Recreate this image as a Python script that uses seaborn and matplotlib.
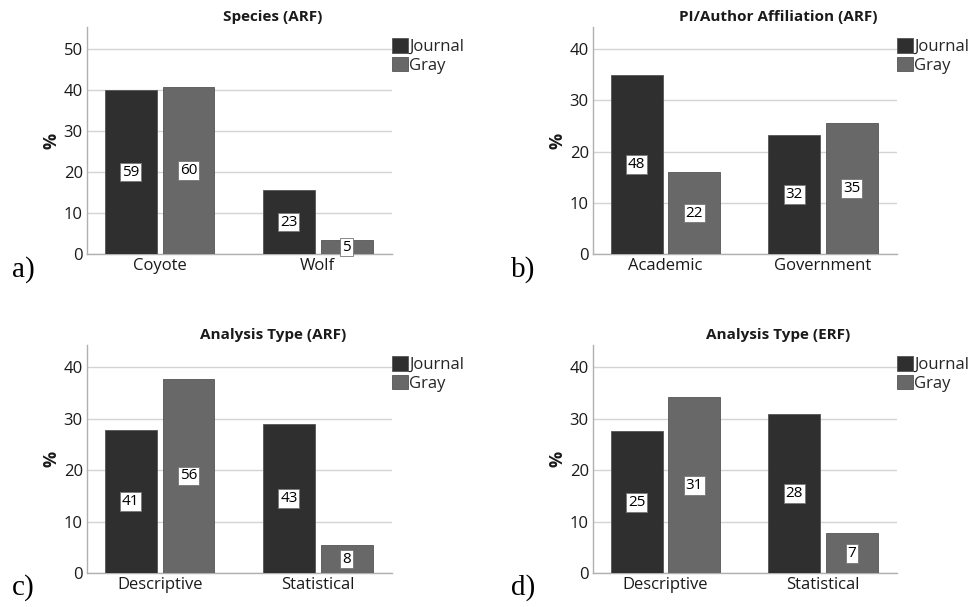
import matplotlib
matplotlib.use('Agg')
import matplotlib.pyplot as plt
import matplotlib.patches as mpatches
import seaborn as sns
import pandas as pd

# dados
species_cats = ['Coyote', 'Wolf']
species_journal = [40.0, 15.6]
species_gray = [40.7, 3.4]
species_n_journal = [59, 23]
species_n_gray = [60, 5]

affil_cats = ['Academic', 'Government']
affil_journal = [34.9, 23.3]
affil_gray = [16.0, 25.5]
affil_n_journal = [48, 32]
affil_n_gray = [22, 35]

arf_cats = ['Descriptive', 'Statistical']
arf_journal = [27.7, 29.0]
arf_gray = [37.7, 5.4]
arf_n_journal = [41, 43]
arf_n_gray = [56, 8]

erf_cats = ['Descriptive', 'Statistical']
erf_journal = [27.5, 30.8]
erf_gray = [34.1, 7.7]
erf_n_journal = [25, 28]
erf_n_gray = [31, 7]

sources = ['Journal', 'Gray']
cores = {'Journal': '#2f2f2f', 'Gray': '#686868'}

sns.set_theme(style='white')
plt.rcParams['font.family'] = ['Open Sans', 'DejaVu Sans']

W, H = 970, 607
fig = plt.figure(figsize=(9.7, 6.07), dpi=100)


def eixo(x0, y_top, y_bot, x1):
    return fig.add_axes([x0 / W, (H - y_bot) / H, (x1 - x0) / W, (y_bot - y_top) / H])


def painel(ax, cats, journal, gray, n_j, n_g, titulo, ymax, letra, lx, ly):
    df = pd.DataFrame({
        'cat': cats * 2,
        'source': ['Journal'] * len(cats) + ['Gray'] * len(cats),
        'pct': list(journal) + list(gray),
        'n': list(n_j) + list(n_g),
    })
    sns.barplot(data=df, x='cat', y='pct', hue='source', hue_order=sources,
                palette=cores, width=0.73, gap=0.1, edgecolor='#555555',
                linewidth=0.6, ax=ax, legend=False, zorder=3)

    # rótulos com contagem no meio das barras
    for cont, src in zip(ax.containers, sources):
        sub = df[df['source'] == src]
        for bar, n in zip(cont, sub['n']):
            x = bar.get_x() + bar.get_width() / 2
            y = bar.get_height() / 2
            ax.text(x, y, str(n), ha='center', va='center', fontsize=11,
                    color='black', zorder=5,
                    bbox=dict(boxstyle='square,pad=0.12', facecolor='white',
                              edgecolor='#777777', linewidth=0.6))

    ax.set_xlim(-0.46, 1.47)
    ax.set_ylim(0, ymax)
    ax.set_yticks(range(0, int(ymax) + 1, 10))
    ax.yaxis.grid(True, color='#d4d4d4', linewidth=1, zorder=0)
    ax.set_axisbelow(True)
    for s in ['top', 'right']:
        ax.spines[s].set_visible(False)
    for s in ['left', 'bottom']:
        ax.spines[s].set_color('#b0b0b0')
        ax.spines[s].set_linewidth(1)
    ax.tick_params(axis='both', length=0, labelsize=12, colors='#1a1a1a', pad=3)
    ax.set_xlabel('')
    ax.set_ylabel('%', fontsize=13, fontweight='bold', color='#1a1a1a', labelpad=2)
    ax.set_title(titulo, fontsize=11, fontweight='bold', x=0.61, pad=4, color='#1a1a1a')

    handles = [mpatches.Patch(facecolor=cores[s], edgecolor='#555555', linewidth=0.6, label=s)
               for s in sources]
    ax.legend(handles=handles, loc='upper left', bbox_to_anchor=(1.0, 0.95),
              frameon=False, fontsize=12, handlelength=0.95, handleheight=0.95,
              handletextpad=0.1, borderaxespad=0, borderpad=0, labelspacing=0.1)

    fig.text(lx / W, 1 - ly / H, letra, fontsize=21, family='Liberation Serif',
             ha='center', va='center', color='black')


ax_a = eixo(87, 27, 254, 392)
painel(ax_a, species_cats, species_journal, species_gray, species_n_journal,
       species_n_gray, 'Species (ARF)', 55.4, 'a)', 23, 270)

ax_b = eixo(593, 27, 254, 897)
painel(ax_b, affil_cats, affil_journal, affil_gray, affil_n_journal,
       affil_n_gray, 'PI/Author Affiliation (ARF)', 44.3, 'b)', 523, 270)

ax_c = eixo(87, 345, 573, 392)
painel(ax_c, arf_cats, arf_journal, arf_gray, arf_n_journal,
       arf_n_gray, 'Analysis Type (ARF)', 44.3, 'c)', 23, 588)

ax_d = eixo(593, 345, 573, 897)
painel(ax_d, erf_cats, erf_journal, erf_gray, erf_n_journal,
       erf_n_gray, 'Analysis Type (ERF)', 44.3, 'd)', 523, 588)

fig.savefig('out.png', dpi=100, facecolor='white')
plt.close(fig)
